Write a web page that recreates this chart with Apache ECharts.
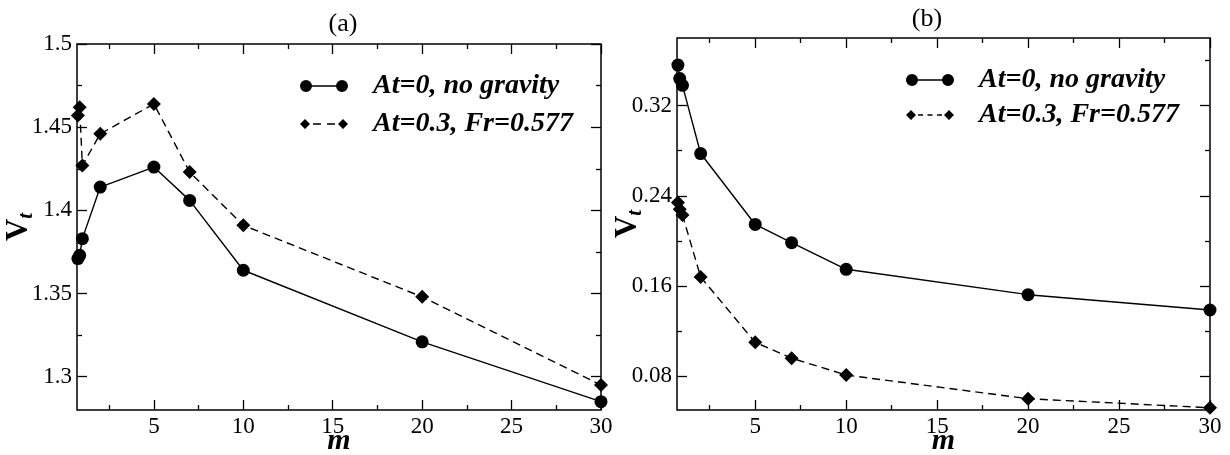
<!DOCTYPE html>
<html>
<head>
<meta charset="utf-8">
<script src="https://cdn.jsdelivr.net/npm/echarts@6/dist/echarts.min.js"></script>
<style>
  html, body { margin: 0; padding: 0; background: #fff; }
  #main { width: 1230px; height: 455px; }
</style>
</head>
<body>
<div id="main"></div>
<script>
// m values shared by both panels
var mValues = [0.75, 0.85, 1, 2, 5, 7, 10, 20, 30];

// panel (a): V_l
var vlNoGravity = [1.371, 1.373, 1.383, 1.414, 1.426, 1.406, 1.364, 1.321, 1.285];
var vlGravity   = [1.457, 1.462, 1.427, 1.446, 1.464, 1.423, 1.391, 1.348, 1.295];

// panel (b): V_t
var vtNoGravity = [0.356, 0.344, 0.338, 0.2775, 0.2146, 0.1984, 0.1748, 0.1523, 0.1387];
var vtGravity   = [0.234, 0.228, 0.223, 0.168, 0.110, 0.096, 0.081, 0.060, 0.052];

// tick labels
var xMajor = [5, 10, 15, 20, 25, 30];
var xMinor = [2.5, 7.5, 12.5, 17.5, 22.5, 27.5];
var yMajorA = [1.3, 1.35, 1.4, 1.45, 1.5];
var yMinorA = [1.325, 1.375, 1.425, 1.475];
var yMajorB = [0.08, 0.16, 0.24, 0.32];
var yMinorB = [0.12, 0.2, 0.28, 0.36];

var seriesNames = ['At=0, no gravity', 'At=0.3, Fr=0.577'];

var FONT = 'Liberation Serif';

function pairs(xs, ys) {
    return xs.map(function (x, i) { return [x, ys[i]]; });
}

// one axis that only draws ticks (and maybe labels) at given values
function tickAxis(grid, pos, min, max, values, len, labels, extra) {
    var ax = {
        type: 'value', gridIndex: grid, position: pos, min: min, max: max,
        axisLine: { show: false },
        splitLine: { show: false },
        axisTick: {
            show: true, inside: true, length: len, customValues: values,
            lineStyle: { color: '#000', width: 1.3 }
        },
        axisLabel: labels ? {
            show: true, customValues: values, color: '#000',
            fontFamily: FONT, fontSize: 23, margin: 5
        } : { show: false }
    };
    if (extra) Object.assign(ax, extra);
    return ax;
}

var xName = {
    name: 'm', nameLocation: 'middle', nameGap: 16, nameMoveOverlap: false,
    nameTextStyle: { color: '#000', fontFamily: FONT, fontSize: 30, fontWeight: 'bold', fontStyle: 'italic', verticalAlign: 'top' }
};
function yName(gap) {
    return {
        name: '{v|V}{t|t}', nameLocation: 'middle', nameGap: gap, nameRotate: 90, nameMoveOverlap: false,
        nameTextStyle: {
            color: '#000', fontFamily: FONT,
            rich: {
                v: { fontSize: 31, fontWeight: 'bold', fontFamily: FONT, color: '#000' },
                t: { fontSize: 21, fontWeight: 'bold', fontStyle: 'italic', fontFamily: FONT, color: '#000', padding: [15, 0, 0, 0] }
            }
        }
    };
}

var xMin = 0.7, xMax = 30;

var xAxes = [], yAxes = [];
[0, 1].forEach(function (g) {
    xAxes.push(tickAxis(g, 'bottom', xMin, xMax, xMajor, 10, true, xName));
    xAxes.push(tickAxis(g, 'bottom', xMin, xMax, xMinor, 5, false));
    xAxes.push(tickAxis(g, 'top', xMin, xMax, xMajor, 10, false));
    xAxes.push(tickAxis(g, 'top', xMin, xMax, xMinor, 5, false));
});
[[0, 1.28, 1.5, yMajorA, yMinorA, 40], [1, 0.05, 0.38, yMajorB, yMinorB, 31]].forEach(function (p) {
    var g = p[0];
    yAxes.push(tickAxis(g, 'left', p[1], p[2], p[3], 10, true, yName(p[5])));
    yAxes.push(tickAxis(g, 'left', p[1], p[2], p[4], 5, false));
    yAxes.push(tickAxis(g, 'right', p[1], p[2], p[3], 10, false));
    yAxes.push(tickAxis(g, 'right', p[1], p[2], p[4], 5, false));
});

var circleIcon = 'path://M0,6 A6,6 0 1,1 12,6 A6,6 0 1,1 0,6 Z M11,5.3 L37,5.3 L37,6.7 L11,6.7 Z M36,6 A6,6 0 1,1 48,6 A6,6 0 1,1 36,6 Z';
var diamondIconA = 'path://M24,0 L24,0 Z M24,12 L24,12 Z M0,6 L5,1 L10,6 L5,11 Z M13,5.3 L21,5.3 L21,6.7 L13,6.7 Z M27,5.3 L35,5.3 L35,6.7 L27,6.7 Z M38,6 L43,1 L48,6 L43,11 Z';
var diamondIconB = 'path://M24,0 L24,0 Z M24,12 L24,12 Z M0,6 L5,1 L10,6 L5,11 Z M12,5.3 L17,5.3 L17,6.7 L12,6.7 Z M21.5,5.3 L26.5,5.3 L26.5,6.7 L21.5,6.7 Z M31,5.3 L36,5.3 L36,6.7 L31,6.7 Z M38,6 L43,1 L48,6 L43,11 Z';

function legend(left, top, gap, dIcon) {
    return {
        orient: 'vertical', left: left, top: top, itemWidth: 48, itemHeight: 12, itemGap: gap,
        selectedMode: false,
        itemStyle: { color: '#000', borderWidth: 0 },
        lineStyle: { width: 0 },
        textStyle: { color: '#000', fontFamily: FONT, fontSize: 28, fontWeight: 'bold', fontStyle: 'italic', padding: [0, 0, 0, 20] },
        data: [{ name: seriesNames[0], icon: circleIcon }, { name: seriesNames[1], icon: dIcon }]
    };
}

function lineSeries(name, data, xi, yi, solid) {
    return {
        name: name, type: 'line', xAxisIndex: xi, yAxisIndex: yi, data: data,
        symbol: solid ? 'circle' : 'diamond',
        symbolSize: solid ? 13 : 14,
        itemStyle: { color: '#000' },
        lineStyle: { color: '#000', width: 1.4, type: solid ? 'solid' : [8, 5] }
    };
}

var chart = echarts.init(document.getElementById('main'));
chart.setOption({
    animation: false,
    backgroundColor: '#fff',
    title: [
        { text: '(a)', left: 338, top: 6, textAlign: 'center', textStyle: { color: '#000', fontFamily: FONT, fontSize: 26, fontWeight: 'normal' } },
        { text: '(b)', left: 922, top: 1, textAlign: 'center', textStyle: { color: '#000', fontFamily: FONT, fontSize: 26, fontWeight: 'normal' } }
    ],
    grid: [
        { left: 77, top: 44, width: 524, height: 366, show: true, borderColor: '#000', borderWidth: 1.5, backgroundColor: 'transparent', outerBoundsMode: 'none', containLabel: false },
        { left: 677, top: 38, width: 533, height: 372, show: true, borderColor: '#000', borderWidth: 1.5, backgroundColor: 'transparent', outerBoundsMode: 'none', containLabel: false }
    ],
    legend: [legend(295, 67, 10, diamondIconA), legend(901, 61, 7, diamondIconB)],
    xAxis: xAxes,
    yAxis: yAxes,
    series: [
        lineSeries(seriesNames[0], pairs(mValues, vlNoGravity), 0, 0, true),
        lineSeries(seriesNames[1], pairs(mValues, vlGravity), 0, 0, false),
        lineSeries(seriesNames[0], pairs(mValues, vtNoGravity), 4, 4, true),
        lineSeries(seriesNames[1], pairs(mValues, vtGravity), 4, 4, false)
    ]
});
</script>
</body>
</html>
